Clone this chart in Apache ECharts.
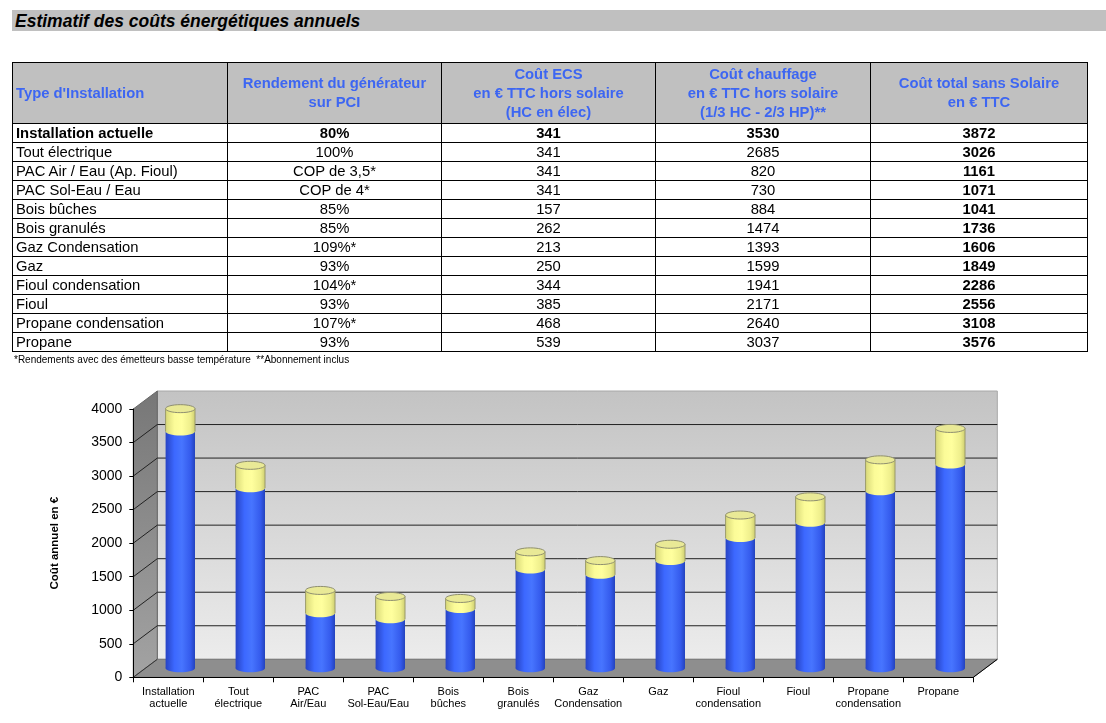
<!DOCTYPE html>
<html>
<head>
<meta charset="utf-8">
<script src="https://cdn.jsdelivr.net/npm/echarts/dist/echarts.min.js"></script>
<style>
  body { margin:0; width:1106px; height:723px; background:#fff; font-family:"Liberation Sans", Arial, Helvetica, sans-serif; position:relative; overflow:hidden; }
  #chart { position:absolute; left:0; top:0; width:1106px; height:723px; }
  #title { position:absolute; left:12px; top:10px; width:1091px; height:21px; background:#c0c0c0; padding-left:3px;
           font-weight:bold; font-style:italic; font-size:17.5px; line-height:22px; color:#000; }
  #tbl { position:absolute; left:12px; top:62px; border-collapse:collapse; table-layout:fixed; width:1075px; font-size:14.8px; }
  #tbl td, #tbl th { border:1px solid #000; padding:0 3px; white-space:nowrap; overflow:hidden; }
  #tbl th { background:#c0c0c0; color:#3d66f2; font-weight:bold; height:60px; line-height:19px; text-align:center; }
  #tbl th.first { text-align:left; }
  #tbl td { height:18px; line-height:18px; text-align:center; }
  #tbl td.first { text-align:left; }
  #tbl tr.bold td, #tbl td.bold { font-weight:bold; }
  #note { position:absolute; left:14px; top:354px; font-size:10px; color:#000; }
</style>
</head>
<body>
<div id="chart"></div>
<div id="title">Estimatif des coûts énergétiques annuels</div>
<table id="tbl"></table>
<div id="note">*Rendements avec des émetteurs basse température &nbsp;**Abonnement inclus</div>
<script>
// données du tableau
var types = ['Installation actuelle','Tout électrique','PAC Air / Eau (Ap. Fioul)','PAC Sol-Eau / Eau','Bois bûches','Bois granulés','Gaz Condensation','Gaz','Fioul condensation','Fioul','Propane condensation','Propane'];
var rendements = ['80%','100%','COP de 3,5*','COP de 4*','85%','85%','109%*','93%','104%*','93%','107%*','93%'];
var coutECS = [341, 341, 341, 341, 157, 262, 213, 250, 344, 385, 468, 539];
var coutChauffage = [3530, 2685, 820, 730, 884, 1474, 1393, 1599, 1941, 2171, 2640, 3037];
var coutTotal = [3872, 3026, 1161, 1071, 1041, 1736, 1606, 1849, 2286, 2556, 3108, 3576];
var headers = ["Type d'Installation", 'Rendement du générateur<br>sur PCI', 'Coût ECS<br>en € TTC hors solaire<br>(HC en élec)', 'Coût chauffage<br>en € TTC hors solaire<br>(1/3 HC - 2/3 HP)**', 'Coût total sans Solaire<br>en € TTC'];
var colWidths = [215, 214, 214, 215, 217];

// données du graphique
var categories = ['Installation\nactuelle','Tout\nélectrique','PAC\nAir/Eau','PAC\nSol-Eau/Eau','Bois\nbûches','Bois\ngranulés','Gaz\nCondensation','Gaz','Fioul\ncondensation','Fioul','Propane\ncondensation','Propane'];
var yTicks = [0, 500, 1000, 1500, 2000, 2500, 3000, 3500, 4000];

// construction du tableau
var html = '<colgroup>';
for (var c = 0; c < colWidths.length; c++) html += '<col style="width:' + colWidths[c] + 'px">';
html += '</colgroup><tr>';
for (var h = 0; h < headers.length; h++) html += '<th' + (h == 0 ? ' class="first"' : '') + '>' + headers[h] + '</th>';
html += '</tr>';
for (var i = 0; i < types.length; i++) {
    html += '<tr' + (i == 0 ? ' class="bold"' : '') + '>';
    html += '<td class="first">' + types[i] + '</td>';
    html += '<td>' + rendements[i] + '</td>';
    html += '<td>' + coutECS[i] + '</td>';
    html += '<td>' + coutChauffage[i] + '</td>';
    html += '<td class="bold">' + coutTotal[i] + '</td>';
    html += '</tr>';
}
document.getElementById('tbl').innerHTML = html;

// graphique pseudo 3D
var depthX = 24, depthY = -18;   // profondeur du plancher
var cylR = 14.7, cylRy = 4;

function renderWalls(params, api) {
    if (params.dataIndex !== 0) return;
    var cs = params.coordSys;
    var x0 = cs.x, x1 = cs.x + cs.width, yTop = cs.y, yBot = cs.y + cs.height;
    var children = [];
    // mur du fond
    children.push({ type:'rect', shape:{ x:x0 + depthX, y:yTop + depthY, width:cs.width, height:cs.height },
        style:{ fill:new echarts.graphic.LinearGradient(0,0,0,1,[{offset:0,color:'#c3c3c3'},{offset:1,color:'#ececec'}]), stroke:'#a8a8a8', lineWidth:1 } });
    // mur gauche
    children.push({ type:'polygon', shape:{ points:[[x0,yTop],[x0 + depthX,yTop + depthY],[x0 + depthX,yBot + depthY],[x0,yBot]] },
        style:{ fill:new echarts.graphic.LinearGradient(0,0,0,1,[{offset:0,color:'#777777'},{offset:1,color:'#a3a3a3'}]), stroke:'#666', lineWidth:1 } });
    // plancher
    children.push({ type:'polygon', shape:{ points:[[x0,yBot],[x1,yBot],[x1 + depthX,yBot + depthY],[x0 + depthX,yBot + depthY]] },
        style:{ fill:'#8e8e8e', stroke:'#777', lineWidth:1 } });
    // lignes de grille
    for (var k = 1; k < yTicks.length - 1; k++) {
        var y = api.coord([0, yTicks[k]])[1];
        children.push({ type:'polyline', shape:{ points:[[x0,y],[x0 + depthX,y + depthY],[x1 + depthX,y + depthY]] },
            style:{ fill:null, stroke:'#222', lineWidth:1 } });
    }
    // arêtes du plancher
    children.push({ type:'line', shape:{ x1:x1, y1:yBot, x2:x1 + depthX, y2:yBot + depthY }, style:{ stroke:'#000', lineWidth:1 } });
    children.push({ type:'line', shape:{ x1:x0, y1:yBot, x2:x0 + depthX, y2:yBot + depthY }, style:{ stroke:'#333', lineWidth:1 } });
    return { type:'group', children:children };
}

function renderCylinder(params, api) {
    var i = api.value(0), heat = api.value(1), ecs = api.value(2);
    var base = api.coord([i, 0]);
    var cx = base[0] + depthX / 2, yb = base[1] + depthY / 2;
    var yh = api.coord([i, heat])[1] + depthY / 2;
    var yt = api.coord([i, heat + ecs])[1] + depthY / 2;
    var blue = new echarts.graphic.LinearGradient(0,0,1,0,[
        {offset:0,color:'#2743c4'},{offset:0.3,color:'#3c68ff'},{offset:0.55,color:'#4775ff'},{offset:0.85,color:'#345aec'},{offset:1,color:'#2443bd'}]);
    var yellow = new echarts.graphic.LinearGradient(0,0,1,0,[
        {offset:0,color:'#d9d97a'},{offset:0.3,color:'#fbfb98'},{offset:0.55,color:'#ffff9e'},{offset:0.85,color:'#eeee8c'},{offset:1,color:'#cfcf72'}]);
    return { type:'group', children:[
        { type:'ellipse', shape:{ cx:cx, cy:yb, rx:cylR, ry:cylRy }, style:{ fill:blue } },
        { type:'rect', shape:{ x:cx - cylR, y:yh, width:cylR * 2, height:yb - yh }, style:{ fill:blue } },
        { type:'rect', shape:{ x:cx - cylR, y:yt, width:cylR * 2, height:yh - yt }, style:{ fill:yellow } },
        { type:'ellipse', shape:{ cx:cx, cy:yh, rx:cylR, ry:cylRy }, style:{ fill:yellow } },
        { type:'line', shape:{ x1:cx - cylR, y1:yt, x2:cx - cylR, y2:yh }, style:{ stroke:'#9a9a6a', lineWidth:1 } },
        { type:'line', shape:{ x1:cx + cylR, y1:yt, x2:cx + cylR, y2:yh }, style:{ stroke:'#9a9a6a', lineWidth:1 } },
        { type:'ellipse', shape:{ cx:cx, cy:yt, rx:cylR, ry:cylRy }, style:{ fill:'#e9e996', stroke:'#8f8f70', lineWidth:1 } }
    ]};
}

var chartData = [];
for (var j = 0; j < categories.length; j++) chartData.push([j, coutChauffage[j], coutECS[j]]);

var myChart = echarts.init(document.getElementById('chart'));
var option = {
    animation: false,
    grid: { left: 133.3, right: 132.7, top: 409, bottom: 45.7 },
    xAxis: {
        type: 'category',
        data: categories,
        axisLine: { show: true, lineStyle: { color: '#000', width: 1 } },
        axisTick: { show: true, length: 5, lineStyle: { color: '#000' } },
        axisLabel: { interval: 0, fontSize: 11, lineHeight: 12, margin: 9, color: '#000', fontFamily: 'Liberation Sans, Arial' },
        z: 10
    },
    yAxis: {
        type: 'value',
        min: 0, max: 4000, interval: 500,
        name: 'Coût annuel en €',
        nameLocation: 'middle',
        nameRotate: 90,
        nameGap: 72,
        nameTextStyle: { fontSize: 11.5, fontWeight: 'bold', color: '#000', fontFamily: 'Liberation Sans, Arial' },
        axisLine: { show: true, lineStyle: { color: '#000', width: 1 } },
        axisTick: { show: true, length: 4, lineStyle: { color: '#000' } },
        axisLabel: { fontSize: 14, margin: 11, color: '#000', fontFamily: 'Liberation Sans, Arial',
                     formatter: function (v) { return String(v); } },
        splitLine: { show: false },
        z: 10
    },
    series: [
        { type: 'custom', renderItem: renderWalls, data: [[0, 0]], silent: true, z: 1 },
        { type: 'custom', renderItem: renderCylinder, data: chartData, encode: { x: 0, y: 1 }, z: 5 }
    ]
};
myChart.setOption(option);
</script>
</body>
</html>
